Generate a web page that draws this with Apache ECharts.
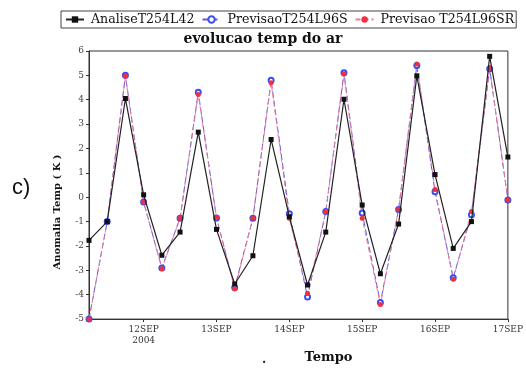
<!DOCTYPE html>
<html>
<head>
<meta charset="utf-8">
<script src="https://cdn.jsdelivr.net/npm/echarts@6/dist/echarts.min.js"></script>
<style>
html,body{margin:0;padding:0;background:#fff;}
#c{width:526px;height:369px;}
</style>
</head>
<body>
<div id="c"></div>
<script>
// 6-hourly times, 11SEP2004 06Z .. 17SEP2004 00Z
var categories = [
  '11SEP 06Z','11SEP 12Z','11SEP 18Z',
  '12SEP 00Z','12SEP 06Z','12SEP 12Z','12SEP 18Z',
  '13SEP 00Z','13SEP 06Z','13SEP 12Z','13SEP 18Z',
  '14SEP 00Z','14SEP 06Z','14SEP 12Z','14SEP 18Z',
  '15SEP 00Z','15SEP 06Z','15SEP 12Z','15SEP 18Z',
  '16SEP 00Z','16SEP 06Z','16SEP 12Z','16SEP 18Z',
  '17SEP 00Z'
];
var tickIndex = [3, 7, 11, 15, 19, 23];
var tickText = ['12SEP\n2004', '13SEP', '14SEP', '15SEP', '16SEP', '17SEP'];

var analise = [-1.77, -1.0, 4.05, 0.1, -2.38, -1.43, 2.67, -1.32, -3.56, -2.4, 2.37, -0.8,
               -3.6, -1.43, 4.02, -0.32, -3.14, -1.1, 4.98, 0.93, -2.1, -1.0, 5.78, 1.65];
var previsaoS = [-5.0, -1.0, 5.0, -0.2, -2.9, -0.86, 4.31, -0.85, -3.7, -0.86, 4.8, -0.68,
                 -4.09, -0.59, 5.11, -0.65, -4.32, -0.5, 5.4, 0.22, -3.3, -0.72, 5.27, -0.11];
var previsaoSR = [-5.0, -1.0, 4.96, -0.2, -2.93, -0.86, 4.22, -0.82, -3.77, -0.86, 4.7, -0.86,
                  -3.94, -0.59, 5.06, -0.86, -4.4, -0.5, 5.47, 0.32, -3.36, -0.59, 5.3, -0.11];

var seriesNames = ['AnaliseT254L42', 'PrevisaoT254L96S', 'Previsao T254L96SR'];

var serif = '"DejaVu Serif", "Liberation Serif", serif';
var chart = echarts.init(document.getElementById('c'), null, {renderer: 'canvas'});

function isTick(i) { return tickIndex.indexOf(i) >= 0; }

chart.setOption({
  animation: false,
  backgroundColor: '#fff',
  title: {
    text: 'evolucao temp do ar',
    left: 'center', top: 32,
    textStyle: {fontFamily: serif, fontSize: 14, fontWeight: 'bold', color: '#111'},
    padding: 0,
    itemGap: 0
  },
  legend: {
    left: 61, top: 11,
    padding: [2, 2, 2, 4],
    borderColor: '#444', borderWidth: 1,
    itemWidth: 18, itemHeight: 8, itemGap: 7,
    textStyle: {fontFamily: serif, fontSize: 12.6, color: '#111', padding: [0, 0, 0, 2]},
    data: seriesNames
  },
  grid: {
    left: 89, right: 13, top: 51, bottom: 33,
    show: true, borderColor: '#333', borderWidth: 1, backgroundColor: 'transparent'
  },
  xAxis: {
    type: 'category',
    data: categories,
    boundaryGap: false,
    name: 'Tempo',
    nameLocation: 'middle',
    nameGap: 18,
    nameTextStyle: {fontFamily: serif, fontSize: 13, fontWeight: 'bold', color: '#111', padding: [0, 0, 0, 60]},
    axisLine: {onZero: false, lineStyle: {color: '#333', width: 1}},
    axisTick: {show: true, length: 3, inside: false, interval: function (i) { return isTick(i); }, lineStyle: {color: '#333'}},
    axisLabel: {
      interval: function (i) { return isTick(i); },
      formatter: function (v, i) { var k = tickIndex.indexOf(i); return k >= 0 ? tickText[k] : ''; },
      fontFamily: serif, fontSize: 9, color: '#333', margin: 5, lineHeight: 11
    },
    splitLine: {show: false}
  },
  yAxis: {
    type: 'value',
    min: -5, max: 6, interval: 1,
    axisLine: {show: true, lineStyle: {color: '#333', width: 1}},
    axisTick: {show: true, length: 3, lineStyle: {color: '#333'}},
    axisLabel: {fontFamily: serif, fontSize: 9, color: '#444', margin: 5},
    splitLine: {show: false}
  },
  graphic: [
    {
      type: 'text', left: 12, top: 177,
      style: {text: 'c)', fontFamily: '"Liberation Sans", Arial, sans-serif', fontSize: 22, fill: '#111'}
    },
    {
      type: 'text', x: 57, y: 212, rotation: Math.PI / 2,
      style: {text: 'Anomalia Temp ( K )', fontFamily: serif, fontSize: 10, fontWeight: 'bold', fill: '#111', align: 'center', verticalAlign: 'middle'}
    },
    {
      type: 'text', x: 264, y: 360,
      style: {text: '.', fontFamily: serif, fontSize: 12, fontWeight: 'bold', fill: '#222', align: 'center', verticalAlign: 'middle'}
    }
  ],
  series: [
    {
      name: seriesNames[0], type: 'line', data: analise, z: 3,
      symbol: 'rect', symbolSize: 5,
      itemStyle: {color: '#111'},
      lineStyle: {color: '#222', width: 1.2, type: 'solid'}
    },
    {
      name: seriesNames[1], type: 'line', data: previsaoS, z: 2,
      symbol: 'emptyCircle', symbolSize: 5,
      itemStyle: {color: '#3a4ef0', borderColor: '#3a4ef0', borderWidth: 1},
      lineStyle: {color: '#5a5ae0', width: 1, type: [6, 3]}
    },
    {
      name: seriesNames[2], type: 'line', data: previsaoSR, z: 2,
      symbol: 'circle', symbolSize: 5,
      itemStyle: {color: '#f03040'},
      lineStyle: {color: '#f07a95', width: 1, type: [5, 3]}
    }
  ]
});
</script>
</body>
</html>
